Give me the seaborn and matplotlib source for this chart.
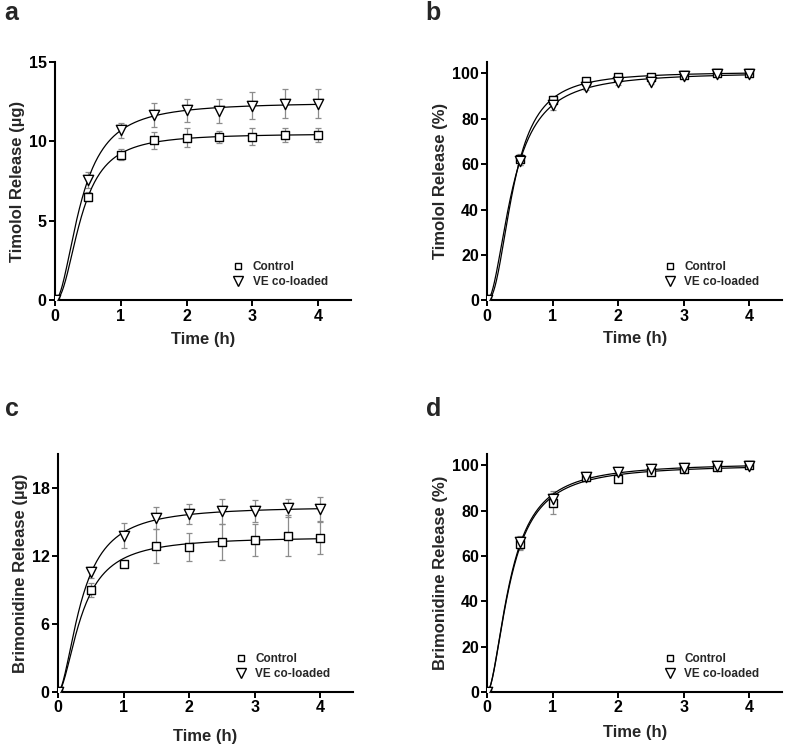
import numpy as np
import pandas as pd
import matplotlib
matplotlib.use('Agg')
import matplotlib.pyplot as plt
from matplotlib.lines import Line2D
import seaborn as sns

# sampling times (h)
time_h = [0, 0.5, 1, 1.5, 2, 2.5, 3, 3.5, 4]

# panel a: Timolol release (ug)
tim_ug_ctrl = [0, 6.52, 9.15, 10.06, 10.24, 10.27, 10.31, 10.41, 10.41]
tim_ug_ctrl_sd = [0, 0.3, 0.35, 0.53, 0.6, 0.4, 0.55, 0.45, 0.43]
tim_ug_ve = [0, 7.57, 10.69, 11.68, 11.95, 11.93, 12.26, 12.37, 12.37]
tim_ug_ve_sd = [0, 0.5, 0.5, 0.75, 0.75, 0.75, 0.85, 0.9, 0.9]

# panel b: Timolol release (%)
tim_pct_ctrl = [0, 62.1, 88.4, 96.6, 98.2, 98.5, 99.3, 100, 100]
tim_pct_ctrl_sd = [0, 2.5, 1.5, 1.5, 1.0, 0.8, 0.6, 0.4, 0.3]
tim_pct_ve = [0, 61.5, 86.0, 93.8, 96.2, 96.2, 99.0, 99.5, 99.5]
tim_pct_ve_sd = [0, 2.0, 2.0, 1.2, 1.2, 1.0, 0.6, 0.4, 0.3]

# panel c: Brimonidine release (ug)
bri_ug_ctrl = [0, 9.0, 11.3, 12.9, 12.8, 13.26, 13.4, 13.8, 13.6]
bri_ug_ctrl_sd = [0, 0.6, 0.3, 1.5, 1.25, 1.6, 1.4, 1.8, 1.4]
bri_ug_ve = [0, 10.55, 13.8, 15.35, 15.7, 15.95, 15.95, 16.2, 16.15]
bri_ug_ve_sd = [0, 0.5, 1.1, 1.0, 0.9, 1.1, 0.95, 0.8, 1.05]

# panel d: Brimonidine release (%)
bri_pct_ctrl = [0, 65.5, 83.5, 94.7, 94.1, 97.0, 98.5, 99.4, 100]
bri_pct_ctrl_sd = [0, 3.0, 5.0, 1.5, 1.2, 1.2, 1.0, 0.8, 0.5]
bri_pct_ve = [0, 66.0, 85.0, 95.0, 97.0, 98.5, 98.7, 99.5, 99.5]
bri_pct_ve_sd = [0, 3.0, 3.0, 1.5, 1.0, 1.0, 0.8, 0.6, 0.5]

panel_letters = ['a', 'b', 'c', 'd']
y_labels = ['Timolol Release (\u00b5g)', 'Timolol Release (%)',
            'Brimonidine Release (\u00b5g)', 'Brimonidine Release (%)']
y_limits = [(0, 15), (0, 105), (0, 21), (0, 105)]
y_ticks = [[0, 5, 10, 15], [0, 20, 40, 60, 80, 100],
           [0, 6, 12, 18], [0, 20, 40, 60, 80, 100]]
series_names = ['Control', 'VE co-loaded']


def hill_fit(t, y):
    # least-squares sigmoidal (Hill) fit y = A t^n / (K^n + t^n), grid search
    t = np.asarray(t, float)
    y = np.asarray(y, float)
    best = None
    for k in np.linspace(0.2, 1.0, 161):
        for n in np.linspace(1.8, 4.0, 111):
            f = t ** n / (k ** n + t ** n)
            a = (f * y).sum() / (f * f).sum()
            err = ((a * f - y) ** 2).sum()
            if best is None or err < best[0]:
                best = (err, a, k, n)
    return best[1:]


sns.set_style('ticks')
plt.rcParams['font.family'] = ['Liberation Sans', 'DejaVu Sans']
plt.rcParams['font.weight'] = 'bold'
plt.rcParams['axes.labelweight'] = 'bold'

fig = plt.figure(figsize=(7.87, 7.47), dpi=100)
positions = [[0.0699, 0.598, 0.376, 0.319], [0.619, 0.598, 0.375, 0.319],
             [0.0737, 0.0736, 0.375, 0.3186], [0.619, 0.0736, 0.375, 0.3186]]
letter_pos = [(0.006, 0.973), (0.541, 0.973), (0.006, 0.443), (0.541, 0.443)]
xlabel_pads = [6, 5, 10, 7]

panels = [
    (tim_ug_ctrl, tim_ug_ctrl_sd, tim_ug_ve, tim_ug_ve_sd),
    (tim_pct_ctrl, tim_pct_ctrl_sd, tim_pct_ve, tim_pct_ve_sd),
    (bri_ug_ctrl, bri_ug_ctrl_sd, bri_ug_ve, bri_ug_ve_sd),
    (bri_pct_ctrl, bri_pct_ctrl_sd, bri_pct_ve, bri_pct_ve_sd),
]

t_fine = np.linspace(0, 4, 400)

for i, (c_y, c_sd, v_y, v_sd) in enumerate(panels):
    ax = fig.add_axes(positions[i])
    for y, sd in [(c_y, c_sd), (v_y, v_sd)]:
        ax.errorbar(time_h, y, yerr=sd, fmt='none', ecolor='#8c8c8c',
                    elinewidth=0.9, capsize=2.5, capthick=0.9, zorder=1)
        a, k, n = hill_fit(time_h, y)
        fit_df = pd.DataFrame({'t': t_fine,
                               'y': a * t_fine ** n / (k ** n + t_fine ** n)})
        sns.lineplot(data=fit_df, x='t', y='y', ax=ax, color='black',
                     linewidth=0.9, zorder=2)
    df = pd.DataFrame({
        't': time_h * 2,
        'y': c_y + v_y,
        'group': [series_names[0]] * len(time_h) + [series_names[1]] * len(time_h),
    })
    df_c = df[df.group == series_names[0]]
    df_v = df[df.group == series_names[1]]
    sns.scatterplot(data=df_c, x='t', y='y', ax=ax, marker='s', s=28,
                    facecolor='white', edgecolor='black', linewidth=1.0,
                    zorder=3, legend=False)
    sns.scatterplot(data=df_v, x='t', y='y', ax=ax, marker='v', s=55,
                    facecolor='white', edgecolor='black', linewidth=1.0,
                    zorder=4, legend=False)

    ax.set_xlim(0, 4.5)
    ax.set_ylim(*y_limits[i])
    ax.set_xticks([0, 1, 2, 3, 4])
    ax.set_yticks(y_ticks[i])
    ax.set_xlabel('Time (h)', fontsize=12, fontweight='bold',
                  labelpad=xlabel_pads[i])
    ax.set_ylabel(y_labels[i], fontsize=12, fontweight='bold', labelpad=3)
    ax.tick_params(axis='both', labelsize=11.5, width=1.4, length=4,
                   direction='out', colors='black', pad=2)
    for lab in ax.get_xticklabels() + ax.get_yticklabels():
        lab.set_fontweight('bold')
    for side in ['left', 'bottom']:
        ax.spines[side].set_linewidth(1.5)
        ax.spines[side].set_color('black')
    sns.despine(ax=ax)
    ax.set_facecolor('white')

    handles = [Line2D([], [], linestyle='none', marker='s', markersize=5,
                      markerfacecolor='white', markeredgecolor='black',
                      markeredgewidth=1.0),
               Line2D([], [], linestyle='none', marker='v', markersize=7,
                      markerfacecolor='white', markeredgecolor='black',
                      markeredgewidth=1.0)]
    ax.legend(handles, series_names, loc='lower left',
              bbox_to_anchor=(0.56, 0.005), frameon=False,
              prop={'size': 8.5, 'weight': 'bold'},
              handletextpad=0.6, labelspacing=0.3, handlelength=1.2)

    fig.text(letter_pos[i][0], letter_pos[i][1], panel_letters[i],
             fontsize=18, fontweight='bold', va='baseline', ha='left')

fig.savefig('out.png', dpi=100, facecolor='white')
